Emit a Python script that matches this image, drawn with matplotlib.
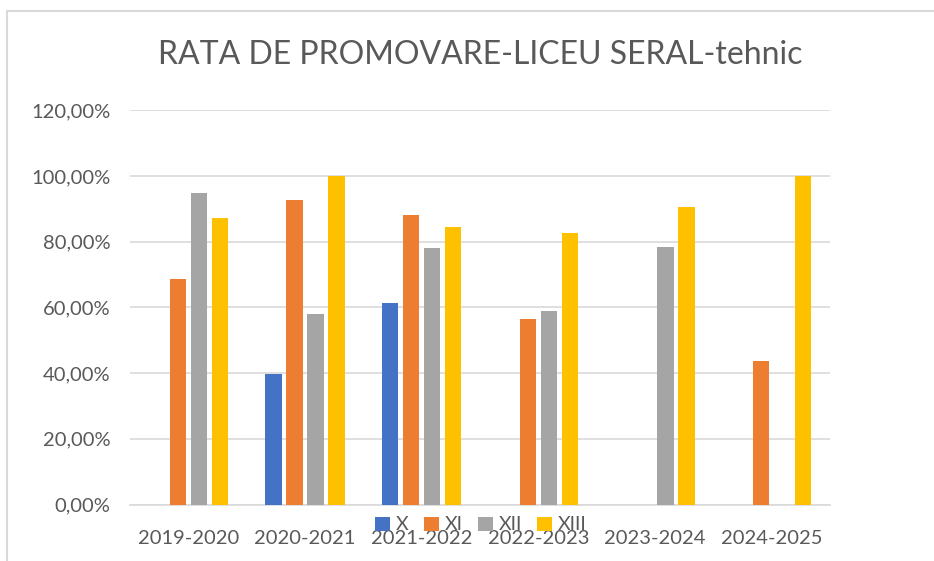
import matplotlib
matplotlib.use("Agg")
import matplotlib.pyplot as plt
import numpy as np
from matplotlib.patches import Patch, Rectangle
from matplotlib.ticker import FuncFormatter

categories = ["2019-2020", "2020-2021", "2021-2022", "2022-2023", "2023-2024", "2024-2025"]
series_names = ["X", "XI", "XII", "XIII"]
X = [0, 0.398, 0.613, 0, 0, 0]
XI = [0.686, 0.927, 0.881, 0.564, 0, 0.437]
XII = [0.949, 0.579, 0.781, 0.588, 0.784, 0]
XIII = [0.872, 1.0, 0.845, 0.828, 0.907, 1.0]
colors = ["#4472C4", "#ED7D31", "#A5A5A5", "#FFC000"]
yticks = [0, 0.2, 0.4, 0.6, 0.8, 1.0, 1.2]

plt.rcParams['font.family'] = ['Lato', 'DejaVu Sans']

fig = plt.figure(figsize=(9.34, 5.61), dpi=100)
ax = fig.add_axes([130/934, 1-504.5/561, 700/934, (504.5-110.3)/561])

x = np.arange(len(categories))
pitch = 0.18
width = 0.142
for i, (vals, c) in enumerate(zip([X, XI, XII, XIII], colors)):
    ax.bar(x + (i - 1.5) * pitch, vals, width=width, color=c, zorder=3, label=series_names[i])

ax.set_xlim(-0.5, len(categories) - 0.5)
ax.set_ylim(0, 1.2)
ax.set_yticks(yticks)
ax.yaxis.set_major_formatter(FuncFormatter(lambda v, p: f"{v*100:.2f}%".replace(".", ",")))
ax.set_xticks(x)
ax.set_xticklabels(categories)
ax.grid(axis='y', color='#D9D9D9', linewidth=1.2, zorder=0)
for s in ['top', 'right', 'left']:
    ax.spines[s].set_visible(False)
ax.spines['bottom'].set_color('#D9D9D9')
ax.spines['bottom'].set_linewidth(1.2)
ax.tick_params(axis='both', length=0, colors='#595959', labelsize=14.5)
ax.tick_params(axis='y', pad=14)
ax.tick_params(axis='x', pad=18)

fig.text(480/934, 1-55/561, "RATA DE PROMOVARE-LICEU SERAL-tehnic", ha='center', va='center',
         fontsize=23, color='#595959')

handles = [Patch(facecolor=c, edgecolor='none') for c in colors]
leg = fig.legend(handles, series_names, loc='center', bbox_to_anchor=(481/934, 1-525/561), ncol=4,
                 frameon=False, fontsize=14, handlelength=0.75, handleheight=0.75,
                 handletextpad=0.3, columnspacing=0.8, labelcolor='#595959')

# chart border
fig.patches.append(Rectangle((7/934, -0.1), 2.0, 1 - 11/561 + 0.1, transform=fig.transFigure,
                             fill=False, edgecolor='#D9D9D9', linewidth=1.5))

fig.savefig("out.png", dpi=100)
